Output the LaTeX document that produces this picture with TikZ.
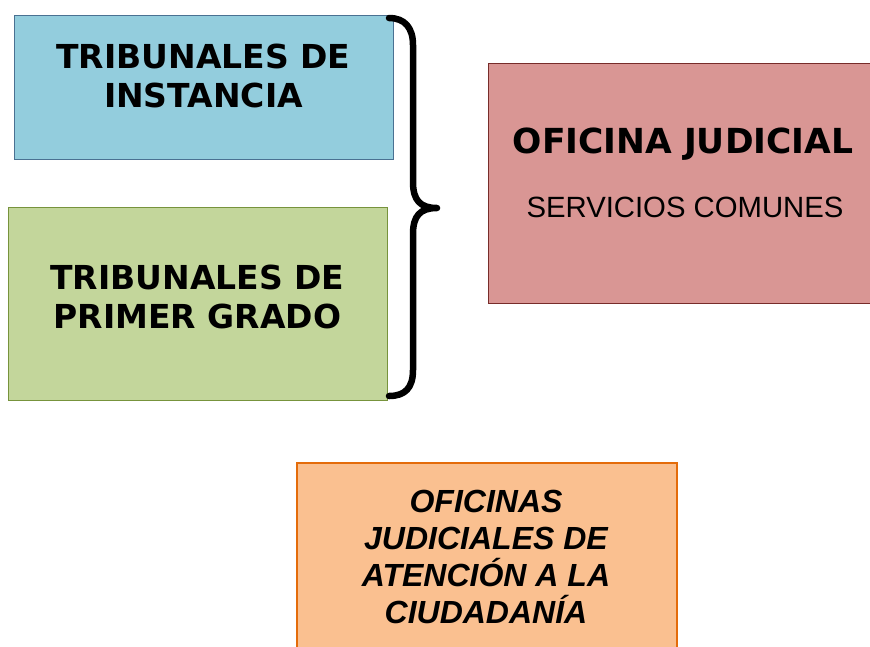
\documentclass[tikz,border=0pt]{standalone}
\usepackage{fontspec}
\setmainfont{Liberation Sans}
\newfontfamily\verd{DejaVu Sans}
\definecolor{bluefill}{HTML}{93CDDD}
\definecolor{blueline}{HTML}{4A7192}
\definecolor{greenfill}{HTML}{C3D69B}
\definecolor{greenline}{HTML}{77933C}
\definecolor{redfill}{HTML}{D99694}
\definecolor{redline}{HTML}{772C2A}
\definecolor{orangefill}{HTML}{FAC090}
\definecolor{orangeline}{HTML}{E46C0A}
\tikzset{
  box/.style={draw, line width=1.3pt, inner sep=0pt, anchor=north west},
  big/.style={font=\verd\bfseries\fontsize{33}{39}\selectfont, align=center, anchor=base, inner sep=0pt},
  mid/.style={font=\verd\bfseries\fontsize{34.5}{40}\selectfont, anchor=base, inner sep=0pt},
  plain/.style={font=\fontsize{29.3}{35}\selectfont, anchor=base, inner sep=0pt},
  ital/.style={font=\bfseries\itshape\fontsize{32}{37}\selectfont, align=center, anchor=base, inner sep=0pt},
  bracestyle/.style={line width=6.5pt, line cap=round, line join=round}
}
\begin{document}
\begin{tikzpicture}[x=1pt,y=-1pt]
\useasboundingbox (0,0) rectangle (870,646);
% boxes
\node[box, fill=bluefill, draw=blueline, minimum width=379pt, minimum height=144pt] (inst) at (14,15) {};
\node[box, fill=greenfill, draw=greenline, minimum width=379pt, minimum height=193pt] (prim) at (8,207) {};
\node[box, fill=redfill, draw=redline, minimum width=392pt, minimum height=240pt] (ofi) at (488,63) {};
\node[box, fill=orangefill, draw=orangeline, line width=2.4pt, minimum width=380pt, minimum height=200pt] (aten) at (296,462) {};
% texts (anchored at the baseline of the last line)
\node[big] (t1) at (203.5,107) {TRIBUNALES DE\\INSTANCIA};
\node[big] (t2) at (197.5,328) {TRIBUNALES DE\\PRIMER GRADO};
\node[mid] (t3) at (683,153) {OFICINA JUDICIAL};
\node[plain] (t4) at (685,217) {SERVICIOS COMUNES};
\node[ital] (t5) at (486,623) {OFICINAS\\JUDICIALES DE\\ATENCIÓN A LA\\CIUDADANÍA};
% brace
\coordinate (btop) at (389,18);
\coordinate (btip) at (437,208);
\coordinate (bbot) at (389,396);
\draw[bracestyle] (btop) .. controls (405,18) and (413,28) .. (413,45)
  -- (413,182) .. controls (413,200) and (420,208) .. (btip)
  .. controls (420,208) and (413,216) .. (413,234)
  -- (413,370) .. controls (413,388) and (405,396) .. (bbot);
\end{tikzpicture}
\end{document}
